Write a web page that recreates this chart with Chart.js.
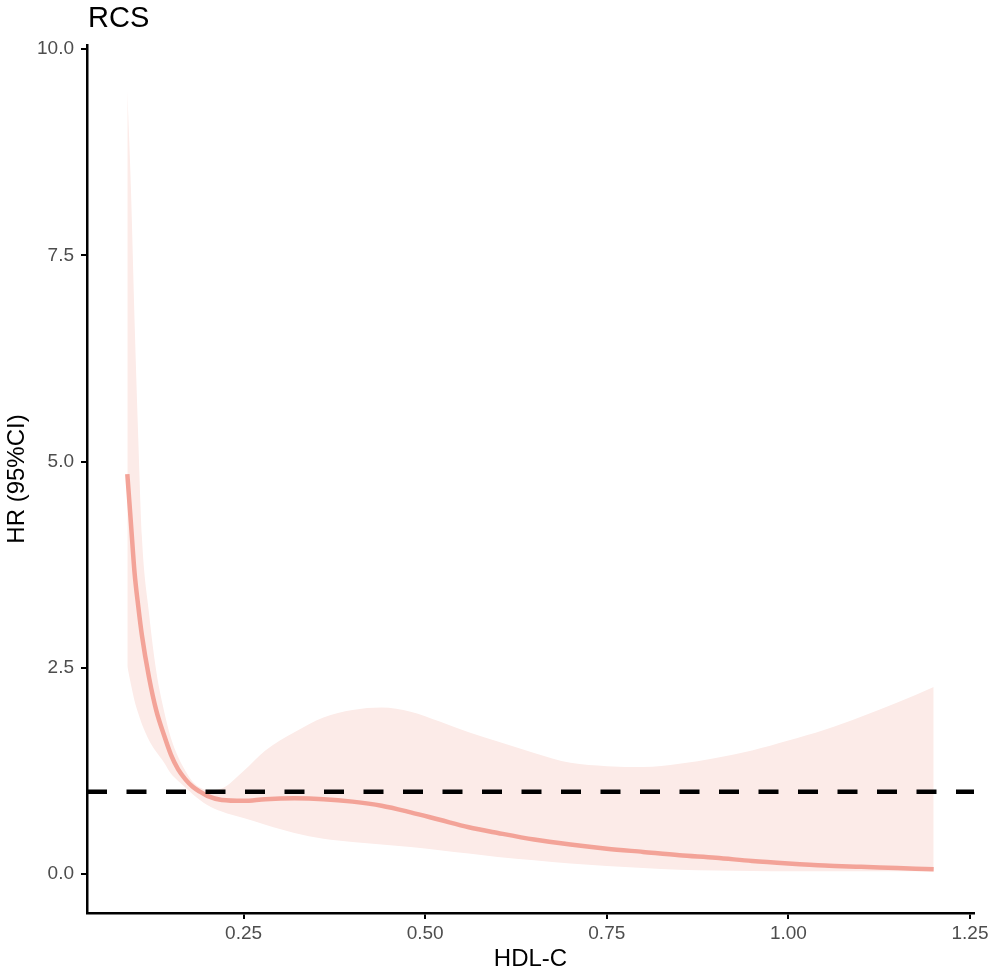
<!DOCTYPE html>
<html>
<head>
<meta charset="utf-8">
<script src="https://cdn.jsdelivr.net/npm/chart.js@4"></script>
<style>
  html, body { margin: 0; padding: 0; background: #fff; }
  #wrap { width: 992px; height: 975px; }
</style>
</head>
<body>
<div id="wrap"><canvas id="rcsChart" width="992" height="975"></canvas></div>
<script>
// HDL-C values and the fitted hazard ratio with its 95% CI
const hdl = [0.09, 0.095, 0.10, 0.105, 0.11, 0.12, 0.13, 0.14, 0.15, 0.16, 0.17, 0.18, 0.19, 0.20, 0.22, 0.25, 0.28, 0.32, 0.36, 0.40, 0.44, 0.48, 0.52, 0.56, 0.60, 0.65, 0.70, 0.75, 0.80, 0.85, 0.90, 0.95, 1.00, 1.05, 1.10, 1.15, 1.20];
const hr = [4.85, 4.25, 3.65, 3.25, 2.90, 2.38, 1.98, 1.70, 1.45, 1.27, 1.15, 1.06, 1.00, 0.95, 0.90, 0.89, 0.91, 0.92, 0.91, 0.88, 0.83, 0.75, 0.66, 0.57, 0.50, 0.42, 0.36, 0.31, 0.27, 0.23, 0.20, 0.16, 0.13, 0.105, 0.09, 0.075, 0.06];
const hrLower = [2.52, 2.30, 2.10, 1.95, 1.82, 1.62, 1.48, 1.36, 1.22, 1.13, 1.05, 0.97, 0.90, 0.84, 0.76, 0.68, 0.60, 0.50, 0.43, 0.39, 0.36, 0.33, 0.29, 0.25, 0.21, 0.17, 0.13, 0.10, 0.075, 0.055, 0.045, 0.04, 0.035, 0.035, 0.035, 0.035, 0.035];
const hrUpper = [9.50, 8.30, 6.70, 5.30, 4.10, 3.15, 2.45, 2.00, 1.65, 1.42, 1.25, 1.12, 1.05, 1.02, 1.04, 1.25, 1.50, 1.72, 1.90, 1.99, 2.02, 1.97, 1.85, 1.72, 1.61, 1.47, 1.35, 1.31, 1.30, 1.34, 1.41, 1.50, 1.62, 1.75, 1.91, 2.08, 2.27];

const xTicks = [0.25, 0.50, 0.75, 1.00, 1.25];
const yTicks = [0, 2.5, 5, 7.5, 10];
const refHR = 1;

const xMin = 0.0345, xMax = 1.2555;
const yMin = -0.47, yMax = 10.05;

const FONT = '"Liberation Sans", Arial, Helvetica, sans-serif';
const lineColor = "#F3A398";
const bandColor = "#FCEBE8";

const toPoints = (xs, ys) => xs.map((x, i) => ({ x: x, y: ys[i] }));

//plot title drawn at the panel's left edge like ggplot
const titlePlugin = {
  id: "rcsTitle",
  afterDraw(chart) {
    const ctx = chart.ctx;
    ctx.save();
    ctx.font = `29px ${FONT}`;
    ctx.fillStyle = "#000";
    ctx.textBaseline = "alphabetic";
    ctx.textAlign = "left";
    ctx.fillText("RCS", chart.chartArea.left + 1, 27);
    ctx.restore();
  }
};

const ctx = document.getElementById("rcsChart").getContext("2d");

new Chart(ctx, {
  type: "line",
  data: {
    datasets: [
      {
        label: "HR = 1",
        data: toPoints([xMin, xMax], [refHR, refHR]),
        borderColor: "#000",
        borderWidth: 4.5,
        borderDash: [20, 19.5],
        pointRadius: 0,
        fill: false,
        order: 0
      },
      {
        label: "HR",
        data: toPoints(hdl, hr),
        borderColor: lineColor,
        borderWidth: 4.5,
        pointRadius: 0,
        cubicInterpolationMode: "monotone",
        fill: false,
        order: 1
      },
      {
        label: "Upper 95% CI",
        data: toPoints(hdl, hrUpper),
        borderColor: "transparent",
        borderWidth: 0,
        backgroundColor: bandColor,
        pointRadius: 0,
        cubicInterpolationMode: "monotone",
        fill: "+1",
        order: 2
      },
      {
        label: "Lower 95% CI",
        data: toPoints(hdl, hrLower),
        borderColor: "transparent",
        borderWidth: 0,
        pointRadius: 0,
        cubicInterpolationMode: "monotone",
        fill: false,
        order: 3
      }
    ]
  },
  options: {
    responsive: false,
    animation: false,
    devicePixelRatio: 1,
    layout: { padding: { left: 0, right: 18, top: 45, bottom: 0 } },
    plugins: {
      legend: { display: false },
      tooltip: { enabled: false }
    },
    scales: {
      x: {
        type: "linear",
        min: xMin,
        max: xMax,
        afterBuildTicks: s => { s.ticks = xTicks.map(v => ({ value: v })); },
        afterFit: s => { s.height = 62; },
        ticks: {
          callback: v => Number(v).toFixed(2),
          font: { family: FONT, size: 19 },
          color: "#4D4D4D",
          padding: 3,
          maxRotation: 0,
          autoSkip: false
        },
        grid: { drawOnChartArea: false, drawTicks: true, tickLength: 6, color: "#000", lineWidth: 2 },
        border: { color: "#000", width: 2.5 },
        title: {
          display: true,
          text: "HDL-C",
          color: "#000",
          font: { family: FONT, size: 24 },
          padding: { top: 0, bottom: 1 }
        }
      },
      y: {
        type: "linear",
        min: yMin,
        max: yMax,
        afterBuildTicks: s => { s.ticks = yTicks.map(v => ({ value: v })); },
        afterFit: s => { s.width = 87; },
        ticks: {
          callback: v => Number(v).toFixed(1),
          font: { family: FONT, size: 19 },
          color: "#4D4D4D",
          padding: 7,
          autoSkip: false
        },
        grid: { drawOnChartArea: false, drawTicks: true, tickLength: 6, color: "#000", lineWidth: 2 },
        border: { color: "#000", width: 2.5 },
        title: {
          display: true,
          text: "HR (95%CI)",
          color: "#000",
          font: { family: FONT, size: 24 },
          padding: { top: 3, bottom: 0 }
        }
      }
    }
  },
  plugins: [titlePlugin]
});
</script>
</body>
</html>
